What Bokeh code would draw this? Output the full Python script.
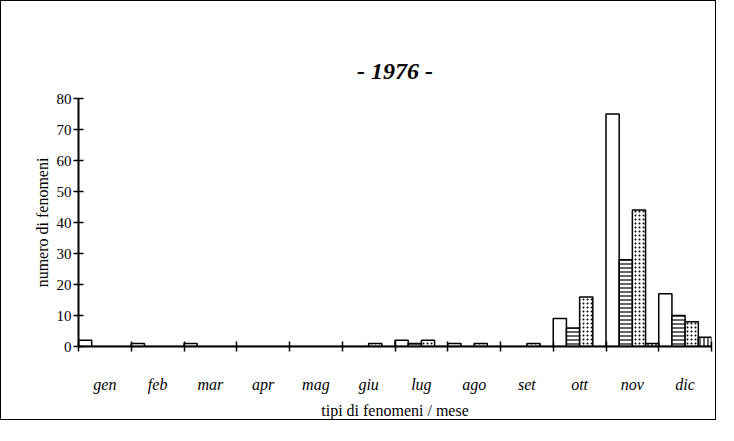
from bokeh.plotting import figure
from bokeh.models import Range1d, FixedTicker
from bokeh.embed import file_html
from bokeh.resources import INLINE

months = ["gen", "feb", "mar", "apr", "mag", "giu", "lug", "ago", "set", "ott", "nov", "dic"]
tipo_1 = [2, 1, 1, 0, 0, 0, 2, 1, 0, 9, 75, 17]   # bianco
tipo_2 = [0, 0, 0, 0, 0, 0, 1, 0, 0, 6, 28, 10]   # righe orizzontali
tipo_3 = [0, 0, 0, 0, 0, 1, 2, 1, 1, 16, 44, 8]   # punteggiato
tipo_4 = [0, 0, 0, 0, 0, 0, 0, 0, 0, 0, 1, 3]     # righe verticali
y_ticks = [0, 10, 20, 30, 40, 50, 60, 70, 80]

series = [tipo_1, tipo_2, tipo_3, tipo_4]
hatches = [None, "horizontal_line", "dot", "vertical_line"]
n_series = len(series)
bw = 1.0 / n_series

FONT = "Liberation Serif"

p = figure(width=716, height=420,
           x_range=Range1d(0, len(months)), y_range=Range1d(0, 80),
           output_backend="svg", toolbar_location=None,
           min_border_left=77, min_border_right=6,
           min_border_top=97, min_border_bottom=75,
           title="- 1976 -")
p.styles = {"border": "1.5px solid black"}

for j, vals in enumerate(series):
    xs = [i + (j + 0.5) * bw for i in range(len(months))]
    p.vbar(x=xs, top=vals, bottom=0, width=bw,
           fill_color="white", line_color="black", line_width=1.5,
           hatch_pattern=hatches[j], hatch_color="black",
           hatch_scale=4, hatch_weight=1.2)

p.outline_line_color = None
p.xgrid.grid_line_color = None
p.ygrid.grid_line_color = None

p.title.align = "center"
p.title.text_font = FONT
p.title.text_font_style = "bold italic"
p.title.text_font_size = "24px"
p.title.text_color = "black"
p.title.standoff = 30

xa = p.xaxis[0]
xa.ticker = FixedTicker(ticks=[i + 0.5 for i in range(len(months))],
                        minor_ticks=list(range(len(months) + 1)))
xa.major_label_overrides = {i + 0.5: m for i, m in enumerate(months)}
xa.major_tick_line_color = None
xa.major_tick_in = 0
xa.major_tick_out = 0
xa.minor_tick_line_color = "black"
xa.minor_tick_line_width = 1.5
xa.minor_tick_in = 5
xa.minor_tick_out = 5
xa.axis_line_width = 2
xa.axis_line_color = "black"
xa.major_label_standoff = 24
xa.major_label_text_font = FONT
xa.major_label_text_font_style = "italic"
xa.major_label_text_font_size = "16px"
xa.major_label_text_color = "black"
xa.axis_label = "tipi di fenomeni / mese"
xa.axis_label_text_font = FONT
xa.axis_label_text_font_style = "normal"
xa.axis_label_text_font_size = "16px"
xa.axis_label_text_color = "black"
xa.axis_label_standoff = 6

ya = p.yaxis[0]
ya.ticker = FixedTicker(ticks=y_ticks)
ya.minor_tick_line_color = None
ya.major_tick_in = 5
ya.major_tick_out = 5
ya.major_tick_line_width = 1.5
ya.major_tick_line_color = "black"
ya.axis_line_width = 2
ya.axis_line_color = "black"
ya.major_label_standoff = 2
ya.major_label_text_font = FONT
ya.major_label_text_font_size = "15px"
ya.major_label_text_color = "black"
ya.axis_label = "numero di fenomeni"
ya.axis_label_text_font = FONT
ya.axis_label_text_font_style = "normal"
ya.axis_label_text_font_size = "16px"
ya.axis_label_text_color = "black"
ya.axis_label_standoff = 3

open("out.html", "w").write(file_html(p, INLINE))
